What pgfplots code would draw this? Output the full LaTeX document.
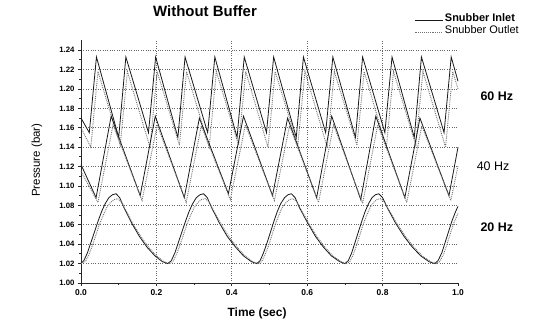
\documentclass[border=0pt]{standalone}
\usepackage{pgfplots}
\pgfplotsset{compat=1.18}
\usepackage{fontspec}
\setmainfont{Liberation Sans}
\begin{document}
\begin{tikzpicture}
\path[use as bounding box] (0bp,0bp) rectangle (543bp,323bp);
\begin{axis}[
  at={(81bp,40bp)}, anchor=south west, scale only axis,
  width=377bp, height=242.5bp,
  xmin=0, xmax=1, ymin=1.00, ymax=1.25,
  axis x line=bottom, axis y line=left,
  axis line style={-, line width=1bp, black!85},
  xtick={0,0.2,...,1.0}, ytick={1.00,1.02,...,1.245},
  minor x tick num=1, minor y tick num=1,
  tick align=outside, major tick length=3bp, minor tick length=2bp,
  tick style={black!85, line width=0.8bp},
  xticklabel style={/pgf/number format/.cd, fixed, fixed zerofill, precision=1, /tikz/.cd, font=\fontsize{8.5}{10}\selectfont\bfseries},
  yticklabel style={/pgf/number format/.cd, fixed, fixed zerofill, precision=2, /tikz/.cd, font=\fontsize{7.8}{9}\selectfont\bfseries},
  /pgf/number format/assume math mode=true,
  ymajorgrids, 
  extra x ticks={0.2,0.4,0.6,0.8}, extra x tick labels={},
  extra x tick style={xmajorgrids=true, major tick length=0pt},
  grid style={dotted, line width=0.7bp, black!60},
  clip=false,
  title={Without Buffer},
  title style={at={(rel axis cs:0.329,1.097)}, anchor=center, font=\fontsize{15}{17}\selectfont\bfseries},
  xlabel={Time (sec)},
  xlabel style={at={(axis description cs:0.467,-0.124)}, anchor=center, font=\fontsize{12}{14}\selectfont\bfseries},
  ylabel={Pressure (bar)},
  ylabel style={at={(axis description cs:-0.117,0.507)}, anchor=center, font=\fontsize{11.5}{13}\selectfont},
  legend style={at={(rel axis cs:0.875,1.13)}, anchor=north west, draw=none, fill=none, font=\fontsize{11}{13}\selectfont, row sep=-1.5pt},
  legend cell align=left,
  legend image code/.code={\draw[#1] (0bp,-3bp) -- (28bp,-3bp);},
]
% 60 Hz
\addplot[black!90, line width=0.8bp] coordinates {
(0,1.170) (0.022,1.155) (0.041,1.233) (0.100,1.150) (0.119,1.233) (0.179,1.155) (0.198,1.233) (0.257,1.150) (0.276,1.233) (0.336,1.155) (0.355,1.233) (0.414,1.150) (0.433,1.233) (0.492,1.155) (0.511,1.233) (0.571,1.150) (0.590,1.233) (0.649,1.155) (0.668,1.233) (0.728,1.150) (0.747,1.233) (0.806,1.155) (0.825,1.233) (0.884,1.150) (0.903,1.233) (0.963,1.155) (0.982,1.233) (1.0,1.208)
};
\addlegendentry{\textbf{Snubber Inlet}}
\addplot[black!55, line width=0.9bp, densely dotted] coordinates {
(0,1.160) (0.026,1.140) (0.045,1.218) (0.104,1.142) (0.123,1.218) (0.183,1.140) (0.202,1.218) (0.261,1.142) (0.280,1.218) (0.340,1.140) (0.359,1.218) (0.418,1.142) (0.437,1.218) (0.496,1.140) (0.515,1.218) (0.575,1.142) (0.594,1.218) (0.653,1.140) (0.672,1.218) (0.732,1.142) (0.751,1.218) (0.810,1.140) (0.829,1.218) (0.888,1.142) (0.907,1.218) (0.967,1.140) (0.986,1.218) (1.0,1.200)
};
\addlegendentry{Snubber Outlet}
% 40 Hz
\addplot[black!90, line width=0.8bp, forget plot] coordinates {
(0,1.122) (0.040,1.088) (0.080,1.172) (0.157,1.090) (0.197,1.172) (0.274,1.088) (0.314,1.170) (0.391,1.092) (0.431,1.172) (0.508,1.090) (0.548,1.170) (0.625,1.088) (0.665,1.172) (0.742,1.086) (0.782,1.172) (0.859,1.088) (0.899,1.170) (0.976,1.090) (1.0,1.140)
};
\addplot[black!55, line width=0.9bp, densely dotted, forget plot] coordinates {
(0,1.115) (0.045,1.083) (0.085,1.163) (0.162,1.085) (0.202,1.163) (0.279,1.083) (0.319,1.162) (0.396,1.086) (0.436,1.163) (0.513,1.085) (0.553,1.162) (0.630,1.083) (0.670,1.163) (0.747,1.082) (0.787,1.163) (0.864,1.083) (0.904,1.162) (0.981,1.085) (1.0,1.121)
};
% 20 Hz
\addplot[black!90, line width=0.8bp, forget plot] coordinates {
(0.000,1.0205) (0.0075,1.023) (0.017,1.031) (0.0265,1.042) (0.036,1.053) (0.0455,1.064) (0.055,1.074) (0.0645,1.082) (0.074,1.088) (0.0835,1.091) (0.093,1.092)
(0.1026,1.088) (0.1136,1.078) (0.134,1.062) (0.155,1.048) (0.175,1.037) (0.196,1.028) (0.216,1.022) (0.230,1.020)
(0.2395,1.023) (0.249,1.031) (0.2585,1.042) (0.268,1.053) (0.2775,1.064) (0.287,1.074) (0.2965,1.082) (0.306,1.088) (0.3155,1.091) (0.325,1.092)
(0.335,1.088) (0.346,1.078) (0.367,1.062) (0.388,1.048) (0.410,1.037) (0.431,1.028) (0.452,1.022) (0.466,1.020)
(0.475,1.023) (0.484,1.031) (0.494,1.042) (0.503,1.053) (0.512,1.064) (0.521,1.074) (0.530,1.082) (0.540,1.088) (0.549,1.091) (0.558,1.092)
(0.568,1.088) (0.579,1.078) (0.601,1.062) (0.622,1.048) (0.643,1.037) (0.664,1.028) (0.686,1.022) (0.700,1.020)
(0.709,1.023) (0.718,1.031) (0.727,1.042) (0.736,1.053) (0.745,1.064) (0.754,1.074) (0.763,1.082) (0.772,1.088) (0.781,1.091) (0.790,1.092)
(0.800,1.088) (0.812,1.078) (0.834,1.062) (0.857,1.048) (0.879,1.037) (0.901,1.028) (0.923,1.022) (0.938,1.020)
(0.947,1.023) (0.957,1.031) (0.966,1.042) (0.975,1.053) (0.984,1.064) (0.994,1.074) (1.0,1.079)
};
\addplot[black!55, line width=0.9bp, densely dotted, forget plot] coordinates {
(0,1.020) (0.0115,1.022) (0.021,1.029) (0.0305,1.039) (0.040,1.050) (0.0495,1.061) (0.059,1.070) (0.0685,1.078) (0.078,1.083) (0.0875,1.086) (0.097,1.087)
(0.1066,1.084) (0.1176,1.076) (0.138,1.061) (0.159,1.048) (0.179,1.037) (0.200,1.028) (0.220,1.022) (0.234,1.020)
(0.2435,1.022) (0.253,1.029) (0.2625,1.039) (0.272,1.050) (0.2815,1.061) (0.291,1.070) (0.3005,1.078) (0.310,1.083) (0.3195,1.086) (0.329,1.087)
(0.339,1.084) (0.350,1.076) (0.371,1.061) (0.392,1.048) (0.414,1.037) (0.435,1.028) (0.456,1.022) (0.470,1.020)
(0.479,1.022) (0.488,1.029) (0.498,1.039) (0.507,1.050) (0.516,1.061) (0.525,1.070) (0.534,1.078) (0.544,1.083) (0.553,1.086) (0.562,1.087)
(0.572,1.084) (0.583,1.076) (0.605,1.061) (0.626,1.048) (0.647,1.037) (0.668,1.028) (0.690,1.022) (0.704,1.020)
(0.713,1.022) (0.722,1.029) (0.731,1.039) (0.740,1.050) (0.749,1.061) (0.758,1.070) (0.767,1.078) (0.776,1.083) (0.785,1.086) (0.794,1.087)
(0.804,1.084) (0.816,1.076) (0.838,1.061) (0.861,1.048) (0.883,1.037) (0.905,1.028) (0.927,1.022) (0.942,1.020)
(0.951,1.022) (0.961,1.029) (0.970,1.039) (0.979,1.050) (0.988,1.061) (0.998,1.070) (1.0,1.072)
};
\node[font=\fontsize{12.5}{14}\selectfont\bfseries] at (axis cs:1.103,1.193) {60 Hz};
\node[font=\fontsize{12.5}{14}\selectfont] at (axis cs:1.093,1.120) {40 Hz};
\node[font=\fontsize{12.5}{14}\selectfont\bfseries] at (axis cs:1.103,1.057) {20 Hz};
\end{axis}
\end{tikzpicture}
\end{document}
